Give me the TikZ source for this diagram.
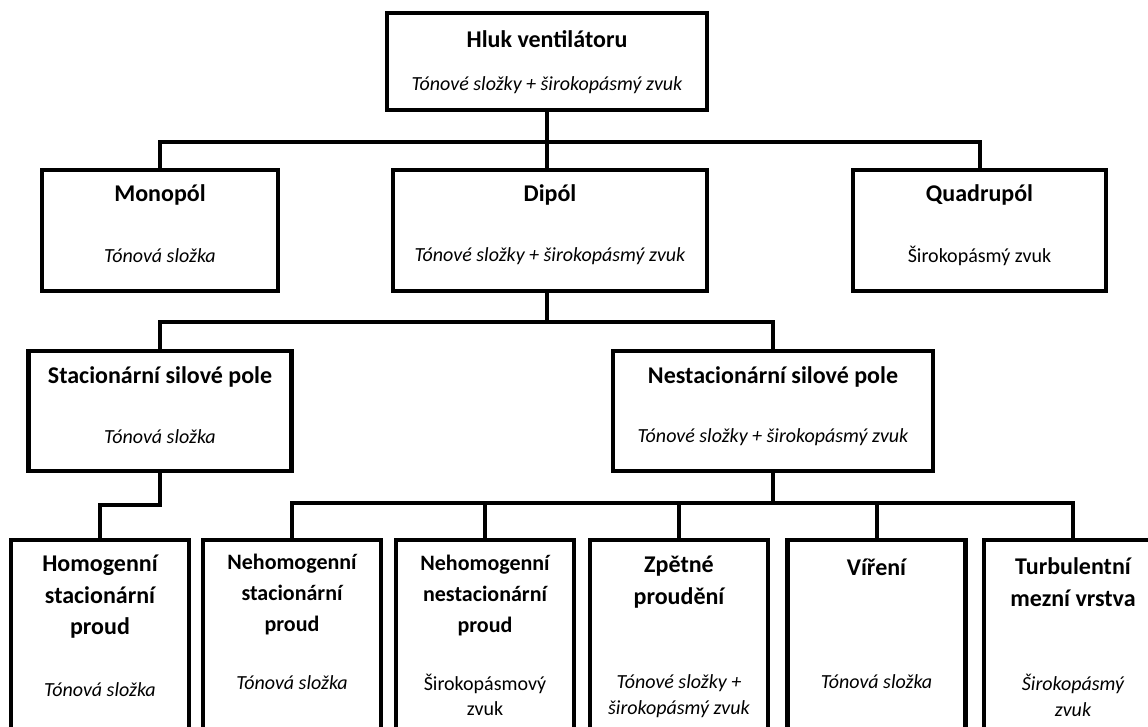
\documentclass[tikz,border=0pt]{standalone}
\usepackage{fontspec}
\setmainfont{Carlito}
\usetikzlibrary{positioning}

\tikzset{
  kbox/.style={draw, line width=4.5pt, inner sep=0pt},
  khead/.style={font=\fontsize{24}{31.5}\selectfont\bfseries, align=center, inner sep=0pt},
  ksmall/.style={font=\fontsize{22}{31}\selectfont\bfseries, align=center, inner sep=0pt},
  knote/.style={font=\fontsize{20}{26}\selectfont\itshape, align=center, inner sep=0pt},
  kplain/.style={font=\fontsize{20}{25}\selectfont, align=center, inner sep=0pt},
  klink/.style={draw, line width=4pt}
}

\begin{document}
\begin{tikzpicture}[x=1pt, y=-1pt]
  \useasboundingbox (0,0) rectangle (1148,727);
  \clip (0,0) rectangle (1148,727);

  \node[kbox, minimum width=320pt, minimum height=97pt] (hluk) at (547,61.5) {};
  \node[khead] (hluk-t) at (547,39) {Hluk ventilátoru};
  \node[knote] (hluk-n) at (547,85) {Tónové složky + širokopásmý zvuk};

  \node[kbox, minimum width=236pt, minimum height=121pt] (mono) at (160,230.5) {};
  \node[khead] (mono-t) at (160,195) {Monopól};
  \node[knote] (mono-n) at (160,256) {Tónová složka};

  \node[kbox, minimum width=314pt, minimum height=121pt] (dip) at (550,230.5) {};
  \node[khead] (dip-t) at (550,195) {Dipól};
  \node[knote] (dip-n) at (550,256) {Tónové složky + širokopásmý zvuk};

  \node[kbox, minimum width=253pt, minimum height=121pt] (quad) at (979.5,230.5) {};
  \node[khead] (quad-t) at (979.5,195) {Quadrupól};
  \node[kplain] (quad-n) at (979.5,256) {Širokopásmý zvuk};

  \node[kbox, minimum width=263pt, minimum height=120pt] (stac) at (160,411) {};
  \node[khead] (stac-t) at (160,377) {Stacionární silové pole};
  \node[knote] (stac-n) at (160,437) {Tónová složka};

  \node[kbox, minimum width=320pt, minimum height=120pt] (nest) at (773,411) {};
  \node[khead] (nest-t) at (773,377) {Nestacionární silové pole};
  \node[knote] (nest-n) at (773,437) {Tónové složky + širokopásmý zvuk};

  \node[kbox, minimum width=178pt, minimum height=220pt] (hom) at (100,650) {};
  \node[khead] (hom-t) at (100,597) {Homogenní\\stacionární\\proud};
  \node[knote] (hom-n) at (100,690) {Tónová složka};

  \node[kbox, minimum width=178pt, minimum height=220pt] (nhs) at (292,650) {};
  \node[ksmall] (nhs-t) at (292,595) {Nehomogenní\\stacionární\\proud};
  \node[knote] (nhs-n) at (292,683) {Tónová složka};

  \node[kbox, minimum width=178pt, minimum height=220pt] (nhn) at (485,650) {};
  \node[ksmall] (nhn-t) at (485,596) {Nehomogenní\\nestacionární\\proud};
  \node[kplain] (nhn-n) at (485,695) {Širokopásmový\\zvuk};

  \node[kbox, minimum width=178pt, minimum height=220pt] (zpet) at (679,650) {};
  \node[khead] (zpet-t) at (679,582) {Zpětné\\proudění};
  \node[knote] (zpet-n) at (679,696) {Tónové složky +\\širokopásmý zvuk};

  \node[kbox, minimum width=178pt, minimum height=220pt] (vir) at (876.5,650) {};
  \node[khead] (vir-t) at (876.5,567) {Víření};
  \node[knote] (vir-n) at (876.5,682) {Tónová složka};

  \node[kbox, minimum width=178pt, minimum height=220pt] (turb) at (1073,650) {};
  \node[khead] (turb-t) at (1073,582) {Turbulentní\\mezní vrstva};
  \node[knote] (turb-n) at (1073,695) {Širokopásmý\\zvuk};

  \coordinate (bus1) at (547,142);
  \coordinate (bus2) at (547,322);
  \coordinate (bus3) at (773,503);

  \path[klink] (hluk.south) -- (bus1 |- dip.north);
  \path[klink] (mono.north) |- (bus1) -| (quad.north);
  \path[klink] (bus2 |- dip.south) -- (bus2);
  \path[klink] (stac.north) |- (bus2) -| (nest.north);
  \path[klink] (stac.south) -- ++(0,32) -| (hom.north);
  \path[klink] (nest.south) -- (bus3);
  \path[klink] (nhs.north) |- (bus3) -| (turb.north);
  \path[klink] (nhn.north) -- (nhn.north |- bus3);
  \path[klink] (zpet.north) -- (zpet.north |- bus3);
  \path[klink] (vir.north) -- (vir.north |- bus3);
\end{tikzpicture}
\end{document}
